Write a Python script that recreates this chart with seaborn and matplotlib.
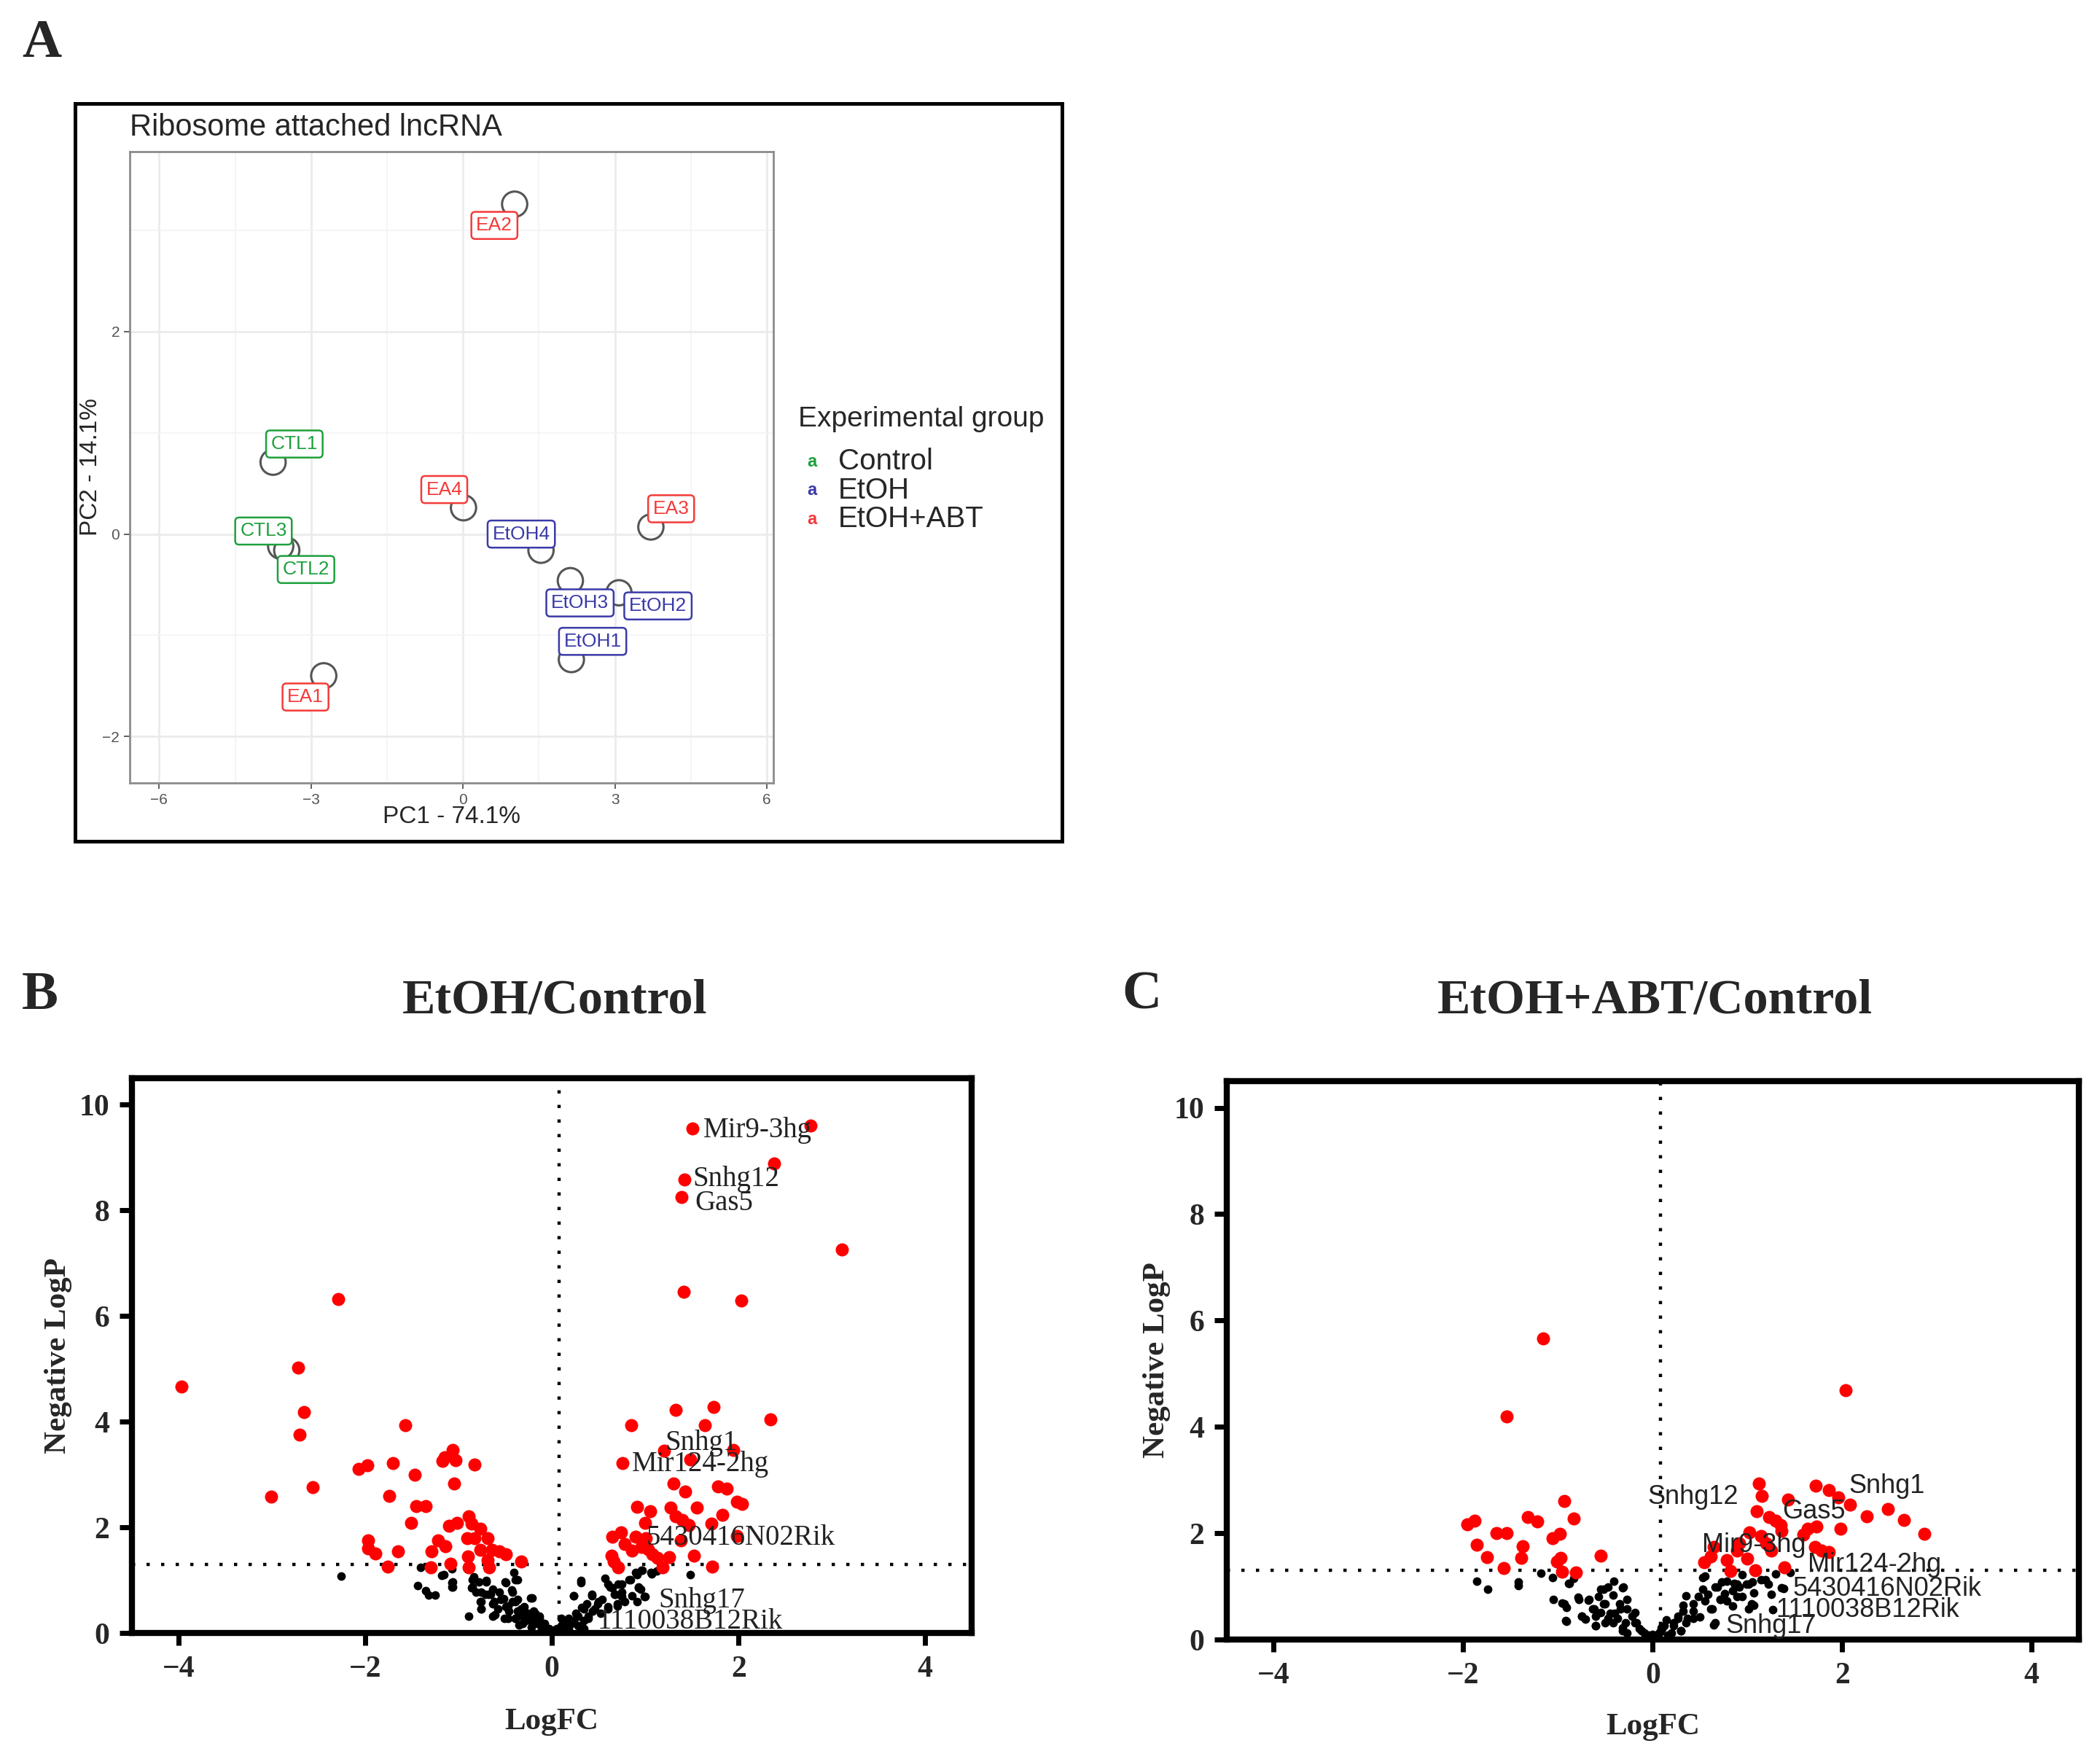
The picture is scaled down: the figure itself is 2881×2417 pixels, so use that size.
import numpy as np
import pandas as pd
import seaborn as sns
import matplotlib.pyplot as plt
from matplotlib.patches import Rectangle

# ---- Panel A: PCA of ribosome attached lncRNA ----
samples = ["CTL1", "CTL2", "CTL3", "EtOH1", "EtOH2", "EtOH3", "EtOH4",
           "EA1", "EA2", "EA3", "EA4"]
groups = ["Control"] * 3 + ["EtOH"] * 4 + ["EtOH+ABT"] * 4
pc1 = [-3.75, -3.48, -3.60, 2.14, 3.08, 2.12, 1.54, -2.75, 1.02, 3.71, 0.01]
pc2 = [0.71, -0.16, -0.12, -1.24, -0.58, -0.46, -0.16, -1.40, 3.26, 0.07, 0.26]
# where the label boxes sit relative to their point (data units)
label_dx = [0.42, 0.38, -0.34, 0.42, 0.77, 0.19, -0.39, -0.36, -0.40, 0.40, -0.38]
label_dy = [0.18, -0.19, 0.15, 0.18, -0.13, -0.22, 0.16, -0.21, -0.21, 0.18, 0.18]
group_names = ["Control", "EtOH", "EtOH+ABT"]
group_colors = {"Control": "#1ea03c", "EtOH": "#3a3aa8", "EtOH+ABT": "#f43a3a"}

# ---- Panel B: EtOH / Control volcano ----
b_sig_fc = [-3.97, -2.29, -2.72, -2.66, -2.70, -3.01, -2.56, -1.57, -2.07, -1.98,
            -1.70, -1.47, -1.74, -1.45, -1.35, -1.51, -1.06, -1.15, -1.17, -1.03,
            -0.83, -1.05, -1.97, -1.97, -1.89, -1.65, -1.76, -1.29, -1.30, -1.22,
            -1.14, -1.10, -1.02, -0.89, -0.86, -0.77, -0.91, -0.83, -0.69, -0.77,
            -0.64, -0.56, -0.49, -0.90, -0.69, -1.09, -0.89, -0.67, -0.33,
            1.51, 2.77, 2.38, 1.42, 1.39, 3.11, 1.41, 2.03,
            1.33, 1.73, 2.34, 0.85, 1.64, 1.20, 1.94, 0.76, 1.48, 1.30,
            1.43, 1.78, 1.87, 1.98, 2.04, 0.91, 1.05, 1.27, 1.55, 1.33,
            1.40, 1.47, 1.00, 1.71, 1.83, 0.65, 0.74, 0.90, 1.01, 1.38,
            1.98, 0.78, 0.86, 0.96, 1.03, 1.08, 1.13, 1.26, 1.52, 0.64,
            0.66, 0.71, 1.19, 1.72]
b_sig_p = [4.67, 6.32, 5.02, 4.18, 3.75, 2.58, 2.76, 3.93, 3.10, 3.17,
           3.22, 2.99, 2.60, 2.40, 2.40, 2.08, 3.47, 3.33, 3.26, 3.27,
           3.19, 2.83, 1.76, 1.60, 1.50, 1.54, 1.26, 1.54, 1.24, 1.75,
           1.65, 2.03, 2.09, 2.21, 2.07, 1.98, 1.80, 1.79, 1.79, 1.58,
           1.58, 1.54, 1.49, 1.45, 1.38, 1.31, 1.24, 1.24, 1.35,
           9.55, 9.61, 8.89, 8.59, 8.25, 7.26, 6.46, 6.30,
           4.23, 4.28, 4.05, 3.94, 3.93, 3.45, 3.47, 3.22, 3.29, 2.83,
           2.68, 2.78, 2.73, 2.48, 2.45, 2.39, 2.30, 2.38, 2.38, 2.21,
           2.14, 2.05, 2.09, 2.07, 2.23, 1.82, 1.91, 1.82, 1.79, 1.75,
           1.84, 1.68, 1.56, 1.63, 1.59, 1.49, 1.42, 1.43, 1.47, 1.47,
           1.35, 1.24, 1.24, 1.26]
b_ns_fc = [-2.26, -1.41, -1.44, -1.35, -1.32, -1.25, -1.18, -1.07, -1.07, -1.07,
           -0.89, -0.85, -0.86, -0.81, -0.77, -0.76, -0.70, -0.66, -0.62, -0.61,
           -0.56, -0.49, -0.49, -0.43, -0.41, -0.39, -0.46, -0.39, -0.33, -0.23,
           -0.28, -0.20, -0.15, -0.10, -0.05, -0.22, -0.18, -0.58, -0.71, -0.37,
           -0.32, -0.12, -0.51, -0.25, -0.30, -0.42, -0.52, -0.35, -0.13, -0.11,
           -0.06, 0.31, 0.23, 0.43, 0.50, 0.57, 0.60, 0.65, 0.71, 0.75,
           0.68, 0.70, 0.84, 0.86, 0.93, 0.90, 0.97, 1.07, 1.12, 1.00,
           1.48, 0.32, 0.37, 0.46, 0.54, 0.26, 0.18, 0.13, 0.08, 0.02,
           0.39, 0.21, 0.34, 0.10, 0.52, 0.60, 0.78, 0.95, 0.04, 0.15,
           -1.16, -1.06, -1.06, -0.84, -0.85, -0.78, -0.70, -0.76, -0.68, -0.63,
           -0.76, -0.63, -0.55, -0.50, -0.47, -0.37, -0.42, -0.39, -0.37, -0.31,
           -0.26, -0.21, -0.18, -0.13, -0.08, -0.03, -0.76, -0.63, -0.31, -0.23,
           -0.16, -0.39, -0.47, 0.31, 0.23, 0.43, 0.62, 0.67, 0.75, 0.83,
           0.91, 0.96, 1.06, 0.93, 0.99, 0.91, 0.75, 0.70, 0.60, 0.49,
           0.44, 0.34, 0.28, 0.39, 0.23, 0.15, 0.10, 0.05, 0.28, 0.34, 0.18]
b_ns_p = [1.08, 1.24, 0.90, 0.80, 0.72, 0.72, 1.09, 0.96, 0.87, 1.22,
          0.32, 1.01, 0.85, 0.78, 0.60, 0.46, 0.99, 0.73, 0.60, 0.34,
          0.78, 0.96, 0.50, 0.82, 1.15, 1.01, 0.41, 0.28, 0.46, 0.66,
          0.23, 0.41, 0.28, 0.14, 0.07, 0.11, 0.37, 0.46, 0.73, 0.64,
          0.32, 0.18, 0.28, 0.35, 0.50, 0.60, 0.65, 0.15, 0.32, 0.09,
          0.05, 0.96, 0.71, 0.71, 0.60, 1.03, 0.92, 0.85, 0.92, 0.78,
          0.73, 0.55, 1.01, 0.71, 0.87, 1.15, 1.19, 1.12, 1.17, 0.69,
          1.10, 0.48, 0.55, 0.46, 0.64, 0.37, 0.28, 0.18, 0.09, 0.05,
          0.32, 0.18, 0.23, 0.28, 0.37, 0.50, 0.60, 0.83, 0.02, 0.12,
          1.10, 0.97, 0.87, 1.06, 0.87, 0.97, 0.97, 0.78, 0.73, 0.83,
          0.60, 0.55, 0.64, 0.97, 0.51, 1.01, 0.78, 0.60, 0.41, 0.46,
          0.37, 0.67, 0.32, 0.28, 0.18, 0.09, 0.46, 0.32, 0.18, 0.23,
          0.18, 0.28, 0.28, 0.99, 0.71, 0.73, 0.87, 0.73, 0.92, 1.01,
          1.10, 1.19, 1.15, 0.85, 0.69, 0.60, 0.69, 0.51, 0.46, 0.55,
          0.41, 0.46, 0.32, 0.28, 0.23, 0.18, 0.14, 0.09, 0.14, 0.09, 0.09]
b_genes = ["Mir9-3hg", "Snhg12", "Gas5", "Snhg1", "Mir124-2hg",
           "5430416N02Rik", "Snhg17", "1110038B12Rik"]
b_gene_fc = [1.62, 1.51, 1.53, 1.21, 0.86, 1.01, 1.14, 0.49]
b_gene_p = [9.51, 8.59, 8.13, 3.60, 3.19, 1.80, 0.61, 0.21]

# ---- Panel C: EtOH+ABT / Control volcano ----
c_sig_fc = [-1.16, -1.54, -0.93, -0.83, -1.96, -1.88, -1.32, -1.22, -1.65, -1.54,
            -1.86, -1.37, -1.75, -1.39, -1.06, -0.98, -1.01, -0.97, -0.55, -1.57,
            -0.96, -0.81,
            2.04, 1.12, 1.15, 1.72, 1.86, 1.96, 2.08, 1.43, 1.10, 1.23,
            1.30, 1.35, 1.36, 2.26, 2.48, 2.65, 2.87, 1.98, 1.73, 1.64,
            1.59, 1.02, 1.14, 1.20, 1.25, 1.71, 1.78, 1.86, 0.64, 0.61,
            0.54, 0.78, 0.89, 1.00, 0.82, 1.08, 1.39, 0.91]
c_sig_p = [5.66, 4.19, 2.61, 2.27, 2.16, 2.23, 2.30, 2.22, 2.00, 2.00,
           1.78, 1.76, 1.55, 1.53, 1.91, 1.99, 1.47, 1.53, 1.57, 1.35,
           1.27, 1.26,
           4.69, 2.94, 2.70, 2.89, 2.81, 2.67, 2.53, 2.63, 2.41, 2.30,
           2.24, 2.15, 2.04, 2.32, 2.45, 2.25, 1.99, 2.09, 2.13, 2.09,
           1.97, 2.02, 1.95, 1.81, 1.67, 1.74, 1.67, 1.65, 1.74, 1.56,
           1.45, 1.50, 1.67, 1.52, 1.29, 1.30, 1.36, 1.81]
c_ns_fc = [-1.86, -1.74, -1.42, -1.42, -1.18, -1.06, -0.89, -0.83, -1.05, -0.96,
           -0.91, -0.91, -0.79, -0.75, -0.68, -0.57, -0.52, -0.41, -0.32, -0.42,
           -0.62, -0.55, -0.47, -0.60, -0.40, -0.27, -0.22, -0.17, -0.32, -0.27,
           -0.12, -0.04, -0.19, -0.35, -0.42, -0.71, -0.52, -0.27, 0.00, 0.12,
           0.14, 0.55, 0.78, 0.68, 0.76, 0.86, 0.94, 0.99, 1.05, 1.14,
           1.22, 1.30, 1.45, 1.36, 1.07, 1.07, 1.27, 0.64, 0.48, 0.55,
           0.35, 0.32, 0.43, 0.27, 0.37, 0.50, 0.22, 0.30, 0.20, 0.61,
           0.71, 0.84, 0.91, 0.94, 0.53, 0.05, 0.08, 0.16, 0.10,
           -0.88, -0.93, -0.92, -0.78, -0.67, -0.55, -0.47, -0.31, -0.50, -0.63,
           -0.75, -0.60, -0.45, -0.34, -0.37, -0.29, -0.19, -0.14, -0.09, -0.32,
           -0.60, -0.50, 0.09, 0.07, 0.22, 0.27, 0.32, 0.43, 0.58, 0.53,
           0.66, 0.73, 0.71, 0.63, 0.66, 0.43, 0.35, 0.30, 0.89, 1.01,
           1.19, 1.25, 1.38, 1.04, 1.01, 0.84, 0.89, 0.78]
c_ns_p = [1.10, 0.94, 1.08, 1.01, 1.25, 1.17, 1.05, 1.15, 0.75, 0.69,
          0.60, 0.34, 0.79, 0.44, 0.74, 0.81, 0.95, 1.10, 0.98, 0.83,
          0.58, 0.51, 0.40, 0.26, 0.49, 0.58, 0.44, 0.31, 0.22, 0.13,
          0.17, 0.08, 0.51, 0.67, 0.31, 0.38, 0.67, 0.76, 0.10, 0.26,
          0.37, 1.19, 1.10, 0.99, 0.87, 1.06, 1.22, 1.04, 1.08, 1.13,
          1.04, 1.24, 1.26, 0.97, 0.88, 0.65, 0.56, 0.28, 0.81, 0.72,
          0.82, 0.65, 0.53, 0.44, 0.40, 0.42, 0.31, 0.17, 0.13, 0.58,
          0.76, 0.92, 0.99, 0.81, 0.95, 0.05, 0.15, 0.08, 0.20,
          1.06, 0.67, 0.35, 0.76, 0.76, 0.94, 0.99, 0.99, 0.67, 0.58,
          0.44, 0.44, 0.49, 0.58, 0.40, 0.31, 0.31, 0.21, 0.12, 0.17,
          0.26, 0.31, 0.22, 0.13, 0.26, 0.40, 0.53, 0.67, 0.85, 1.17,
          0.99, 1.08, 0.76, 0.58, 0.31, 0.40, 0.31, 0.17, 1.04, 1.04,
          1.13, 0.85, 0.96, 0.67, 0.58, 0.63, 0.81, 0.72]
c_genes = ["Snhg12", "Snhg1", "Gas5", "Mir9-3hg", "Mir124-2hg",
           "5430416N02Rik", "1110038B12Rik", "Snhg17"]
c_gene_fc = [-0.05, 2.07, 1.37, 0.52, 1.64, 1.48, 1.30, 0.77]
c_gene_p = [2.68, 2.89, 2.40, 1.77, 1.40, 0.95, 0.56, 0.26]

P_CUT = -np.log10(0.05)
VLINE = 0.08

sns.set_theme(style="white")
SERIF = ["Liberation Serif", "DejaVu Serif"]
SANS = ["Liberation Sans", "DejaVu Sans"]
plt.rcParams["font.family"] = SANS

fig = plt.figure(figsize=(14.405, 12.085), dpi=200)

# ---------------- Panel A ----------------
pca_df = pd.DataFrame({"sample": samples, "group": groups, "PC1": pc1, "PC2": pc2,
                       "dx": label_dx, "dy": label_dy})

axA = fig.add_axes([0.0618, 0.5556, 0.3065, 0.3584])
sns.scatterplot(data=pca_df, x="PC1", y="PC2", ax=axA, s=155, marker="o",
                facecolor="none", edgecolor="#555555", linewidth=1.1,
                legend=False, zorder=3)
for _, r in pca_df.iterrows():
    col = group_colors[r["group"]]
    axA.text(r["PC1"] + r["dx"], r["PC2"] + r["dy"], r["sample"], ha="center",
             va="center", fontsize=9.5, color=col, zorder=4,
             bbox=dict(boxstyle="round,pad=0.25,rounding_size=0.2", fc="white",
                       ec=col, lw=0.9))
axA.set_xlim(-6.58, 6.13)
axA.set_ylim(-2.46, 3.78)
axA.set_xticks([-6, -3, 0, 3, 6])
axA.set_yticks([-2, 0, 2])
axA.set_xticks([-4.5, -1.5, 1.5, 4.5], minor=True)
axA.set_yticks([-1, 1, 3], minor=True)
axA.grid(which="major", color="#ebebeb", lw=1.0)
axA.grid(which="minor", color="#f4f4f4", lw=0.6)
axA.set_axisbelow(True)
axA.tick_params(which="major", length=3, width=0.6, color="#444444",
                labelsize=7.5, labelcolor="#555555", pad=2, bottom=True, left=True)
axA.tick_params(which="minor", length=0)
for sp in axA.spines.values():
    sp.set_color("#8c8c8c")
    sp.set_linewidth(1.0)
axA.set_xlabel("PC1 - 74.1%", fontsize=12)
axA.set_ylabel("PC2 - 14.1%", fontsize=12)
axA.xaxis.set_label_coords(0.5, -0.036)
axA.yaxis.set_label_coords(-0.043, 0.5)

fig.text(0.0618, 0.9276, "Ribosome attached lncRNA", fontsize=15, va="center")
fig.add_artist(Rectangle((0.0358, 0.5225), 0.4699, 0.4188, transform=fig.transFigure,
                         fill=False, ec="black", lw=1.8))

# legend drawn as text, like ggplot's label keys
fig.text(0.380, 0.762, "Experimental group", fontsize=14, va="center")
for i, g in enumerate(group_names):
    yy = 0.738 - i * 0.0163
    fig.text(0.3865, yy, "a", fontsize=8.5, fontweight="bold", color=group_colors[g],
             va="center", ha="center")
    fig.text(0.399, yy, g, fontsize=14.5, va="center")

fig.text(0.020, 0.975, "A", fontsize=27, fontweight="bold", family=SERIF,
         ha="center", va="center")


# ---------------- Panels B and C ----------------
def volcano(ax, sig_fc, sig_p, ns_fc, ns_p, genes, gfc, gp, gene_font, gene_size):
    ns = pd.DataFrame({"logFC": ns_fc, "negLogP": ns_p})
    sig = pd.DataFrame({"logFC": sig_fc, "negLogP": sig_p})
    sns.scatterplot(data=ns, x="logFC", y="negLogP", ax=ax, color="black", s=18,
                    linewidth=0, legend=False, zorder=3)
    sns.scatterplot(data=sig, x="logFC", y="negLogP", ax=ax, color="#ff0000", s=42,
                    linewidth=0, legend=False, zorder=4)
    ax.axhline(P_CUT, color="black", lw=1.6, ls=(0, (1, 3.5)), zorder=2)
    ax.axvline(VLINE, color="black", lw=1.6, ls=(0, (1, 3.5)), zorder=2)
    for name, x, y in zip(genes, gfc, gp):
        ax.text(x, y, name, fontsize=gene_size, family=gene_font, color="#222222",
                ha="left", va="center", zorder=5)
    ax.set_xlim(-4.5, 4.5)
    ax.set_ylim(0, 10.5)
    ax.set_xticks([-4, -2, 0, 2, 4])
    ax.set_yticks([0, 2, 4, 6, 8, 10])
    ax.tick_params(length=6, width=2.5, color="black", labelsize=15, pad=5,
                   bottom=True, left=True, direction="out")
    for lab in ax.get_xticklabels() + ax.get_yticklabels():
        lab.set_family(SERIF)
        lab.set_fontweight("bold")
    for sp in ax.spines.values():
        sp.set_color("black")
        sp.set_linewidth(3)
    ax.set_xlabel("LogFC", fontsize=15.5, fontweight="bold", family=SERIF)
    ax.set_ylabel("Negative LogP", fontsize=15.5, fontweight="bold", family=SERIF)


axB = fig.add_axes([0.0628, 0.0732, 0.40, 0.3148])
volcano(axB, b_sig_fc, b_sig_p, b_ns_fc, b_ns_p, b_genes, b_gene_fc, b_gene_p,
        SERIF, 14)
axB.xaxis.set_label_coords(0.5, -0.135)
axB.yaxis.set_label_coords(-0.071, 0.5)

axC = fig.add_axes([0.584, 0.0695, 0.406, 0.3169])
volcano(axC, c_sig_fc, c_sig_p, c_ns_fc, c_ns_p, c_genes, c_gene_fc, c_gene_p,
        SANS, 13)
axC.xaxis.set_label_coords(0.5, -0.132)
axC.yaxis.set_label_coords(-0.065, 0.5)

fig.text(0.264, 0.432, "EtOH/Control", fontsize=24.5, fontweight="bold", family=SERIF,
         ha="center", va="center")
fig.text(0.788, 0.432, "EtOH+ABT/Control", fontsize=24.5, fontweight="bold",
         family=SERIF, ha="center", va="center")
fig.text(0.019, 0.435, "B", fontsize=27, fontweight="bold", family=SERIF,
         ha="center", va="center")
fig.text(0.5437, 0.435, "C", fontsize=27, fontweight="bold", family=SERIF,
         ha="center", va="center")

fig.savefig("out.png", dpi=200, facecolor="white")
